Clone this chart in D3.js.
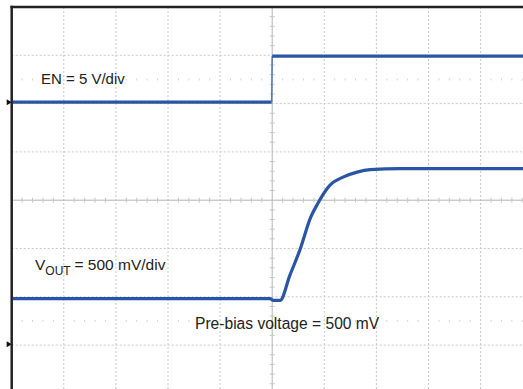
<!DOCTYPE html>
<html>
<head>
<meta charset="utf-8">
<script src="https://cdn.jsdelivr.net/npm/d3@7"></script>
<style>
  html, body { margin: 0; padding: 0; background: #fff; }
  svg { display: block; }
  text { font-family: "Liberation Sans", Arial, sans-serif; fill: #222; }
</style>
</head>
<body>
<svg id="chart" width="523" height="389"></svg>
<script>
// ---- Data (time in divisions, 0..10; voltages in volts) ----
const enTime  = [0, 4.99, 5.0, 10.2];
const enVolts = [0, 0, 4.76, 4.76];

const voutTime  = [0, 4.96, 5.02, 5.15, 5.34, 5.53, 5.74, 5.88, 5.98, 6.11, 6.36, 6.63, 6.88, 7.45, 10.2];
const voutVolts = [0.471, 0.471, 0.452, 0.452, 0.714, 0.973, 1.315, 1.460, 1.553, 1.646, 1.729, 1.781, 1.806, 1.817, 1.817];

const enScale   = 5;    // V/div
const voutScale = 0.5;  // V/div
const enOffsetDiv   = 2.03;   // ground marker position (divisions from centre)
const voutOffsetDiv = -2.98;

const labels = {
  en: "EN = 5 V/div",
  voutMain: "V",
  voutSub: "OUT",
  voutRest: "= 500 mV/div",
  prebias: "Pre-bias voltage = 500 mV"
};

// ---- Layout ----
const svg = d3.select("#chart");
const x = d3.scaleLinear().domain([0, 10]).range([11.7, 532.7]);
const y = d3.scaleLinear().domain([4, -4]).range([7, 393.4]);

const gridColor = "#c8c8c8";
const g = svg.append("g");

// dotted grid lines
const divsX = d3.range(1, 10).filter(d => d !== 5);
const divsY = d3.range(-3, 4).filter(d => d !== 0);
g.selectAll(".vgrid").data(divsX).join("line")
  .attr("x1", d => x(d)).attr("x2", d => x(d))
  .attr("y1", y(4)).attr("y2", 389)
  .attr("stroke", gridColor).attr("stroke-width", 1).attr("stroke-dasharray", "2,2");
g.selectAll(".hgrid").data(divsY).join("line")
  .attr("x1", x(0)).attr("x2", 523)
  .attr("y1", d => y(d)).attr("y2", d => y(d))
  .attr("stroke", gridColor).attr("stroke-width", 1).attr("stroke-dasharray", "2,2");

// centre axes (solid) with minor ticks
const axisColor = "#b4b4b4";
const tickColor = "#c6c6c6";
g.append("line").attr("x1", x(5)).attr("x2", x(5)).attr("y1", y(4)).attr("y2", 389)
  .attr("stroke", axisColor).attr("stroke-width", 1);
g.append("line").attr("x1", x(0)).attr("x2", 523).attr("y1", y(0)).attr("y2", y(0))
  .attr("stroke", axisColor).attr("stroke-width", 1);

const minorX = d3.range(0, 10.01, 0.2).filter(d => Math.abs(d - Math.round(d)) > 0.01);
const minorY = d3.range(-4, 4.01, 0.2).filter(d => Math.abs(d - Math.round(d)) > 0.01);
g.selectAll(".mtx").data(minorX).join("line")
  .attr("x1", d => x(d)).attr("x2", d => x(d))
  .attr("y1", y(0) - 2.5).attr("y2", y(0) + 2.5)
  .attr("stroke", tickColor).attr("stroke-width", 1);
g.selectAll(".mty").data(minorY).join("line")
  .attr("x1", x(5) - 2.5).attr("x2", x(5) + 2.5)
  .attr("y1", d => y(d)).attr("y2", d => y(d))
  .attr("stroke", tickColor).attr("stroke-width", 1);

// faint tick rows at half divisions
[2.5, -2.5].forEach(row => {
  g.selectAll(null).data(minorX).join("line")
    .attr("x1", d => x(d)).attr("x2", d => x(d))
    .attr("y1", y(row) - 1).attr("y2", y(row) + 1)
    .attr("stroke", "#d4d4d4").attr("stroke-width", 1);
});

// frame (left & top)
g.append("line").attr("x1", x(0)).attr("x2", x(0)).attr("y1", y(4) - 1.2).attr("y2", 389)
  .attr("stroke", "#222").attr("stroke-width", 2.5);
g.append("line").attr("x1", x(0) - 1.2).attr("x2", 523).attr("y1", y(4)).attr("y2", y(4))
  .attr("stroke", "#222").attr("stroke-width", 2.5);

// channel ground markers
[enOffsetDiv, voutOffsetDiv].forEach(off => {
  const yy = y(off);
  g.append("path")
    .attr("d", `M${x(0) - 5},${yy - 3}L${x(0)},${yy}L${x(0) - 5},${yy + 3}Z`)
    .attr("fill", "#111");
});

// ---- Traces ----
const traceColor = "#2a55a5";
const enData = enTime.map((t, i) => ({ t, v: enVolts[i] }));
const voutData = voutTime.map((t, i) => ({ t, v: voutVolts[i] }));

const enLine = d3.line().x(d => x(d.t)).y(d => y(d.v / enScale + enOffsetDiv));
const voutLine = d3.line().curve(d3.curveMonotoneX)
  .x(d => x(d.t)).y(d => y(d.v / voutScale + voutOffsetDiv));

const traces = svg.append("g").attr("clip-path", "url(#clip)");
svg.append("clipPath").attr("id", "clip").append("rect")
  .attr("x", x(0) + 1.3).attr("y", y(4) + 1.3).attr("width", 523).attr("height", 389);

// EN: thick levels, thin edge
const enSegs = [];
for (let i = 0; i < enData.length - 1; i++) enSegs.push([enData[i], enData[i + 1]]);
traces.selectAll(".en").data(enSegs).join("path")
  .attr("d", d => enLine(d))
  .attr("fill", "none")
  .attr("stroke", d => d[0].v === d[1].v ? traceColor : "#5577bb")
  .attr("stroke-width", d => d[0].v === d[1].v ? 3.2 : 1.5);

traces.append("path").datum(voutData)
  .attr("d", voutLine)
  .attr("fill", "none")
  .attr("stroke", traceColor)
  .attr("stroke-width", 3.2)
  .attr("stroke-linejoin", "round");

// ---- Labels ----
svg.append("text").attr("x", 41).attr("y", 83.5).attr("font-size", 15).text(labels.en);
const vt = svg.append("text").attr("x", 35).attr("y", 270).attr("font-size", 15.5);
vt.append("tspan").text(labels.voutMain);
vt.append("tspan").attr("font-size", 12).attr("dy", 4.5).text(labels.voutSub);
vt.append("tspan").attr("x", 74.5).attr("dy", -4.5).text(labels.voutRest);
svg.append("text").attr("x", 195).attr("y", 329).attr("font-size", 15.6).text(labels.prebias);
</script>
</body>
</html>
